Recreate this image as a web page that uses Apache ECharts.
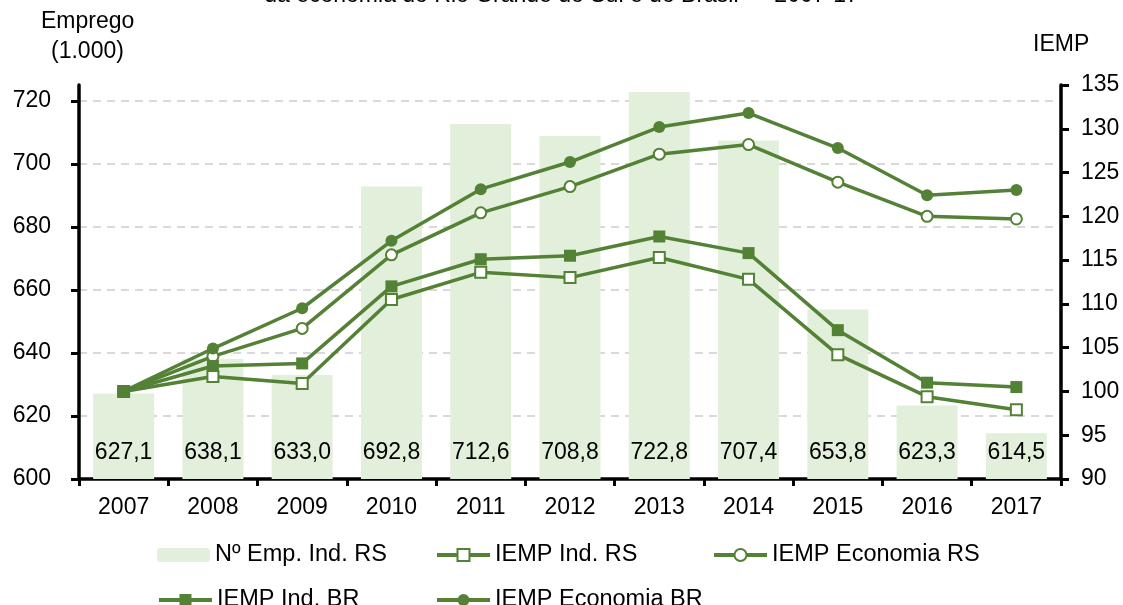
<!DOCTYPE html>
<html>
<head>
<meta charset="utf-8">
<script src="https://cdn.jsdelivr.net/npm/echarts@6/dist/echarts.min.js"></script>
<style>html,body{margin:0;padding:0;background:#fff}#c{width:1123px;height:605px}</style>
</head>
<body>
<div id="c"></div>
<script>
const years = ['2007','2008','2009','2010','2011','2012','2013','2014','2015','2016','2017'];
const empIndRS = [627.1, 638.1, 633.0, 692.8, 712.6, 708.8, 722.8, 707.4, 653.8, 623.3, 614.5];
const iempIndRS = [100, 101.7, 100.9, 110.5, 113.6, 113.0, 115.3, 112.8, 104.2, 99.4, 97.9];
const iempEconRS = [100, 104.0, 107.2, 115.6, 120.4, 123.4, 127.1, 128.2, 123.9, 120.0, 119.7];
const iempIndBR = [100, 102.9, 103.2, 112.0, 115.1, 115.5, 117.7, 115.8, 107.0, 101.0, 100.5];
const iempEconBR = [100, 104.9, 109.5, 117.2, 123.1, 126.2, 130.2, 131.8, 127.8, 122.4, 123.0];
const leftTicks = [600, 620, 640, 660, 680, 700, 720];
const rightTicks = [90, 95, 100, 105, 110, 115, 120, 125, 130, 135];

const GREEN = '#538135';
const BAR = '#E2EFDA';
const FONT = "'Liberation Sans', Arial, sans-serif";
const FS = 23;

const chart = echarts.init(document.getElementById('c'), null, {renderer: 'canvas'});

function lineSeries(name, data, symbol, filled, size) {
  return {
    name: name, type: 'line', yAxisIndex: 1, data: data,
    symbol: symbol, symbolSize: size,
    lineStyle: {color: GREEN, width: 3.5},
    itemStyle: filled ? {color: GREEN} : {color: '#ffffff', borderColor: GREEN, borderWidth: 2},
    emphasis: {disabled: true}, z: 5
  };
}

function legendAt(name, left, top, isLine) {
  return {
    data: [name], left: left, top: top, padding: 0,
    itemWidth: 53, itemHeight: isLine ? 15 : 14, itemGap: 0,
    lineStyle: {width: 4},
    textStyle: {fontSize: 23.5, fontFamily: FONT, color: '#000', lineHeight: 24},
    selectedMode: false
  };
}

const option = {
  animation: false,
  backgroundColor: '#fff',
  textStyle: {fontFamily: FONT},
  title: {
    text: 'da economia do Rio Grande do Sul e do Brasil — 2007-17',
    left: 'center', top: -16, padding: 0,
    textStyle: {fontSize: FS, fontWeight: 'normal', color: '#000', fontFamily: FONT}
  },
  graphic: [
    {type: 'text', left: 41, top: 10, style: {text: 'Emprego', fontSize: FS, fontFamily: FONT, fill: '#000'}},
    {type: 'text', left: 51, top: 40, style: {text: '(1.000)', fontSize: FS, fontFamily: FONT, fill: '#000'}},
    {type: 'text', left: 1033, top: 33, style: {text: 'IEMP', fontSize: FS, fontFamily: FONT, fill: '#000'}}
  ],
  legend: [
    legendAt('Nº Emp. Ind. RS', 157, 543, false),
    legendAt('IEMP Ind. RS', 435, 543, true),
    legendAt('IEMP Economia RS', 712, 543, true),
    legendAt('IEMP Ind. BR', 157, 588, true),
    legendAt('IEMP Economia BR', 435, 588, true)
  ],
  grid: {left: 79, right: 62, top: 85, bottom: 126, containLabel: false},
  xAxis: {
    type: 'category', data: years, boundaryGap: true,
    axisLine: {lineStyle: {color: '#000', width: 3.5}},
    axisTick: {show: true, alignWithLabel: false, length: 7, lineStyle: {color: '#000', width: 3}},
    axisLabel: {color: '#000', fontSize: FS, fontFamily: FONT, margin: 17}
  },
  yAxis: [
    {
      type: 'value', min: 600, max: 725, interval: 20, position: 'left',
      axisLine: {show: true, lineStyle: {color: '#000', width: 3.5}},
      axisTick: {show: true, length: 8, lineStyle: {color: '#000', width: 3}, customValues: leftTicks},
      axisLabel: {color: '#000', fontSize: FS, fontFamily: FONT, margin: 28, customValues: leftTicks},
      splitLine: {show: true, lineStyle: {color: '#D9D9D9', width: 2, type: [8, 6]}}
    },
    {
      type: 'value', min: 90, max: 135, interval: 5, position: 'right',
      axisLine: {show: true, lineStyle: {color: '#000', width: 3.5}},
      axisTick: {show: true, length: 8, lineStyle: {color: '#000', width: 3}, customValues: rightTicks},
      axisLabel: {color: '#000', fontSize: FS, fontFamily: FONT, margin: 20, customValues: rightTicks},
      splitLine: {show: false}
    }
  ],
  series: [
    {
      name: 'Nº Emp. Ind. RS', type: 'bar', yAxisIndex: 0, data: empIndRS,
      barWidth: 61, itemStyle: {color: BAR}, z: 1,
      label: {
        show: true, position: 'insideBottom', distance: 15,
        fontSize: FS, fontFamily: FONT, color: '#000',
        formatter: p => p.value.toFixed(1).replace('.', ',')
      },
      emphasis: {disabled: true}
    },
    lineSeries('IEMP Ind. RS', iempIndRS, 'rect', false, 11),
    lineSeries('IEMP Economia RS', iempEconRS, 'circle', false, 11),
    lineSeries('IEMP Ind. BR', iempIndBR, 'rect', true, 12),
    lineSeries('IEMP Economia BR', iempEconBR, 'circle', true, 12)
  ]
};
chart.setOption(option);
</script>
</body>
</html>
